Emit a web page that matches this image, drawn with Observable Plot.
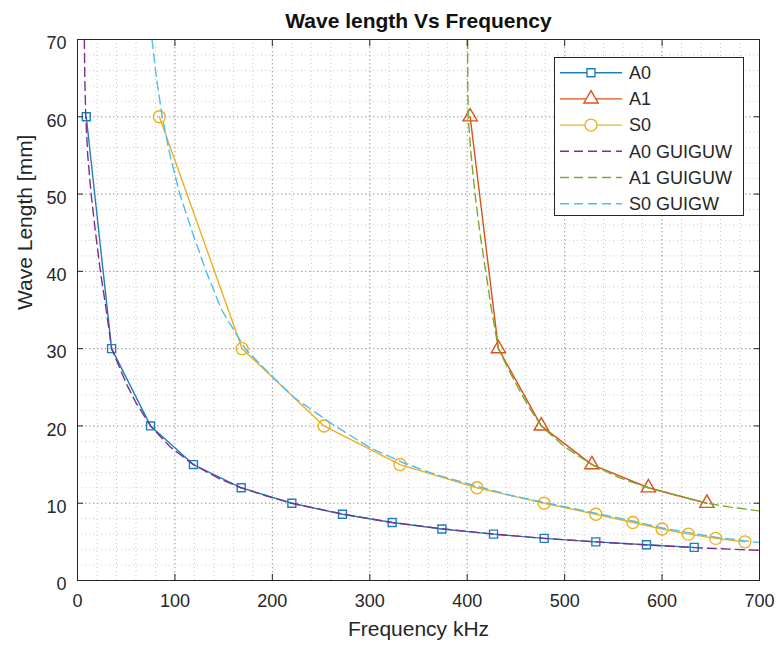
<!DOCTYPE html>
<html>
<head>
<meta charset="utf-8">
<script src="https://cdn.jsdelivr.net/npm/d3@7"></script>
<script src="https://cdn.jsdelivr.net/npm/@observablehq/plot@0.6"></script>
<style>
  body { margin: 0; background: #fff; }
  #chart { width: 781px; height: 651px; }
</style>
</head>
<body>
<div id="chart"></div>
<script>
// ---- measured series (frequency kHz, wavelength mm) ----
const a0Freq = [9, 35, 75, 119, 168, 220, 272, 323, 374, 427, 479, 532, 584, 633];
const a0Wave = [60, 30, 20, 15, 12, 10, 8.57, 7.5, 6.67, 6, 5.45, 5, 4.62, 4.29];

const a1Freq = [403, 432, 476, 528, 586, 646];
const a1Wave = [60, 30, 20, 15, 12, 10];

const s0Freq = [84, 169, 253, 331, 410, 479, 532, 570, 600, 627, 655, 685];
const s0Wave = [60, 30, 20, 15, 12, 10, 8.57, 7.5, 6.67, 6, 5.45, 5];

// ---- GUIGUW dispersion curves ----
const a0gFreq = [7, 7.5, 8.5, 10.5, 14, 18.5, 23.5, 29.5, 35, 50, 60, 75, 95, 119, 145, 168, 195, 220, 272, 323, 374, 427, 479, 532, 584, 633, 700];
const a0gWave = [70, 65, 60, 55, 50, 45, 40, 35, 30, 25.5, 23, 20, 17.3, 15, 13.2, 12, 10.9, 10, 8.6, 7.5, 6.7, 6.0, 5.45, 5.0, 4.6, 4.25, 3.9];

const a1gFreq = [400.5, 400.5, 401, 404, 408, 413, 419, 425, 432, 442, 452, 464, 476, 500, 528, 556, 586, 615, 646, 670, 700];
const a1gWave = [70, 65, 60, 55, 50, 45, 40, 35, 30, 27.4, 25, 22.3, 20, 17.3, 15, 13.3, 12, 11, 10, 9.5, 9];

const s0gFreq = [76.5, 81, 87, 95, 105, 118, 132, 148, 172, 195, 222, 262, 300, 333, 370, 410, 445, 479, 532, 570, 600, 627, 655, 700];
const s0gWave = [70, 65, 60, 55, 50, 45, 40, 35, 30, 27, 23.7, 20.2, 17.2, 15.3, 13.6, 12.2, 11, 10.1, 8.7, 7.7, 6.8, 6.2, 5.6, 4.9];

// ---- ticks ----
const xTicks = [0, 100, 200, 300, 400, 500, 600, 700];
const yTicks = [0, 10, 20, 30, 40, 50, 60, 70];
const xMinor = d3.range(0, 701, 20);
const yMinor = d3.range(0, 71, 2);

const seriesNames = ["A0", "A1", "S0", "A0 GUIGUW", "A1 GUIGUW", "S0 GUIGW"];
const seriesColors = ["#1f80b8", "#D95319", "#EDB120", "#7E2F8E", "#77AC30", "#4DBEEE"];

const toRows = (fs, ws) => fs.map((f, i) => ({f, w: ws[i]}));
const A0 = toRows(a0Freq, a0Wave);
const A1 = toRows(a1Freq, a1Wave);
const S0 = toRows(s0Freq, s0Wave);
const A0g = toRows(a0gFreq, a0gWave);
const A1g = toRows(a1gFreq, a1gWave);
const S0g = toRows(s0gFreq, s0gWave);

const DASH = "9,5";
const SW = 1.4;
const ink = "#262626";

const chart = Plot.plot({
  width: 781,
  height: 651,
  marginLeft: 77,
  marginRight: 22,
  marginTop: 39,
  marginBottom: 71,
  style: {fontFamily: "'Liberation Sans', Arial, sans-serif", fontSize: "18px", color: ink, background: "#fff"},
  x: {domain: [0, 700]},
  y: {domain: [0, 70]},
  marks: [
    Plot.gridX(xMinor, {stroke: "#888", strokeOpacity: 0.45, strokeDasharray: "1,3"}),
    Plot.gridY(yMinor, {stroke: "#888", strokeOpacity: 0.45, strokeDasharray: "1,3"}),
    Plot.gridX(xTicks, {stroke: "#777", strokeOpacity: 0.55, strokeDasharray: "1.5,2.5"}),
    Plot.gridY(yTicks, {stroke: "#777", strokeOpacity: 0.55, strokeDasharray: "1.5,2.5"}),

    Plot.line(A0, {x: "f", y: "w", stroke: seriesColors[0], strokeWidth: SW, clip: true}),
    Plot.dot(A0, {x: "f", y: "w", symbol: "square", r: 4.5, stroke: seriesColors[0], fill: "none", strokeWidth: SW}),
    Plot.line(A1, {x: "f", y: "w", stroke: seriesColors[1], strokeWidth: SW, clip: true}),
    Plot.dot(A1, {x: "f", y: "w", symbol: "triangle", r: 5.3, stroke: seriesColors[1], fill: "none", strokeWidth: SW}),
    Plot.line(S0, {x: "f", y: "w", stroke: seriesColors[2], strokeWidth: SW, clip: true}),
    Plot.dot(S0, {x: "f", y: "w", symbol: "circle", r: 6, stroke: seriesColors[2], fill: "none", strokeWidth: SW}),

    Plot.line(A0g, {x: "f", y: "w", stroke: seriesColors[3], strokeWidth: SW, strokeDasharray: DASH, clip: true}),
    Plot.line(A1g, {x: "f", y: "w", stroke: seriesColors[4], strokeWidth: SW, strokeDasharray: DASH, clip: true}),
    Plot.line(S0g, {x: "f", y: "w", stroke: seriesColors[5], strokeWidth: SW, strokeDasharray: DASH, clip: true}),

    Plot.frame({stroke: ink, strokeWidth: 1}),

    // inward ticks on all four sides
    Plot.axisX({ticks: xTicks, anchor: "bottom", tickSize: -6, tickFormat: () => "", label: null, stroke: ink}),
    Plot.axisX({ticks: xTicks, anchor: "top", tickSize: -6, tickFormat: () => "", label: null, stroke: ink}),
    Plot.axisY({ticks: yTicks, anchor: "left", tickSize: -6, tickFormat: () => "", label: null, stroke: ink}),
    Plot.axisY({ticks: yTicks, anchor: "right", tickSize: -6, tickFormat: () => "", label: null, stroke: ink}),
    // tick labels
    Plot.axisX({ticks: xTicks, anchor: "bottom", tickSize: 0, tickPadding: 14, label: null, fill: ink, fontSize: 18}),
    Plot.axisY({ticks: yTicks, anchor: "left", tickSize: 0, tickPadding: 11, label: null, fill: ink, fontSize: 18, dy: 4}),

    // title and axis titles
    Plot.text(["Wave length Vs Frequency"], {frameAnchor: "top", dy: -18, fontSize: 21, fontWeight: "bold", fill: "#111", lineAnchor: "middle"}),
    Plot.text(["Frequency kHz"], {frameAnchor: "bottom", dy: 49, fontSize: 21, fill: ink, lineAnchor: "middle"}),
    Plot.text(["Wave Length [mm]"], {frameAnchor: "left", dx: -52, rotate: -90, fontSize: 21, fill: ink, lineAnchor: "middle"})
  ]
});

// ---- legend (inside the axes, top right) ----
const svg = d3.select(chart);
const lg = svg.append("g")
  .attr("font-family", "'Liberation Sans', Arial, sans-serif")
  .attr("font-size", 18)
  .attr("text-anchor", "start");
lg.append("rect").attr("x", 554.5).attr("y", 57.5).attr("width", 189).attr("height", 158)
  .attr("fill", "#fff").attr("stroke", ink).attr("stroke-width", 1);
const symbols = [d3.symbolSquare, d3.symbolTriangle, d3.symbolCircle, null, null, null];
const symSizes = [4.5, 5.3, 6];
seriesNames.forEach((name, i) => {
  const y = 72.7 + i * 26.2;
  const line = lg.append("line").attr("x1", 560).attr("x2", 622).attr("y1", y).attr("y2", y)
    .attr("stroke", seriesColors[i]).attr("stroke-width", SW);
  if (i >= 3) line.attr("stroke-dasharray", DASH);
  if (symbols[i]) {
    const r = symSizes[i];
    lg.append("path").attr("d", d3.symbol(symbols[i], Math.PI * r * r)())
      .attr("transform", `translate(591,${y})`)
      .attr("fill", "#fff").attr("stroke", seriesColors[i]).attr("stroke-width", SW);
  }
  lg.append("text").attr("x", 629).attr("y", y).attr("dy", "0.35em").attr("fill", ink)
    .attr("text-anchor", "start").text(name);
});

document.getElementById("chart").appendChild(chart);
</script>
</body>
</html>
